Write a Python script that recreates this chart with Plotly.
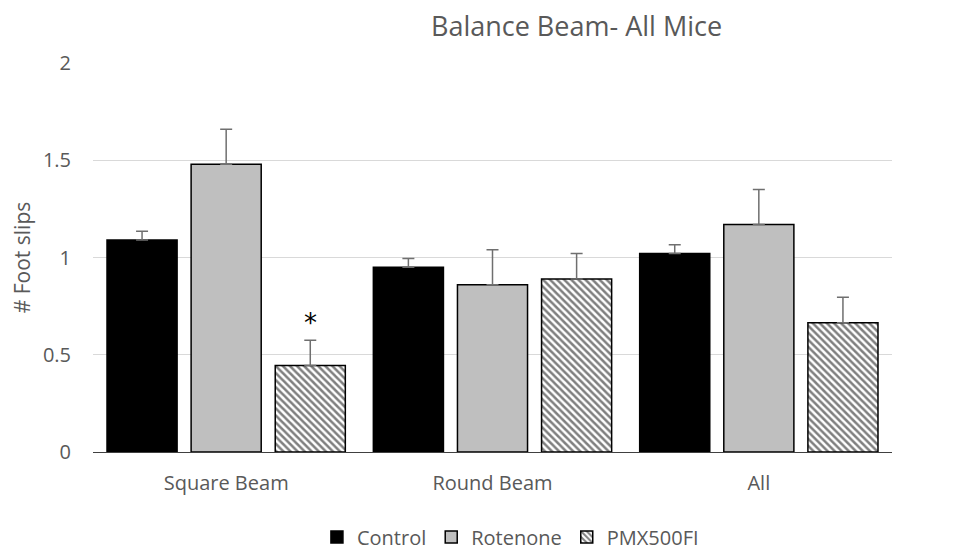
import plotly.graph_objects as go

categories = ["Square Beam", "Round Beam", "All"]
series_names = ["Control", "Rotenone", "PMX500FI"]
control = [1.09, 0.95, 1.02]
control_err = [0.045, 0.045, 0.045]
rotenone = [1.48, 0.86, 1.17]
rotenone_err = [0.18, 0.18, 0.18]
pmx = [0.445, 0.89, 0.665]
pmx_err = [0.13, 0.13, 0.13]
y_ticks = [0, 0.5, 1, 1.5, 2]
y_tick_labels = ["0", "0.5", "1", "1.5", "2"]

FONT = "Open Sans"
GRAY = "#595959"

def err(arr):
    return dict(type="data", array=arr, arrayminus=[0] * len(arr), symmetric=False,
                color="#6f6f6f", thickness=1.5, width=6)

fig = go.Figure()
fig.add_trace(go.Bar(name=series_names[0], x=categories, y=control, error_y=err(control_err),
                     marker=dict(color="#000000", line=dict(color="#000000", width=1.5))))
fig.add_trace(go.Bar(name=series_names[1], x=categories, y=rotenone, error_y=err(rotenone_err),
                     marker=dict(color="#bfbfbf", line=dict(color="#000000", width=1.5))))
fig.add_trace(go.Bar(name=series_names[2], x=categories, y=pmx, error_y=err(pmx_err),
                     marker=dict(color="#ffffff", line=dict(color="#000000", width=1.5),
                                 pattern=dict(shape="\\", fgcolor="#000000", bgcolor="#ffffff",
                                              size=5, solidity=0.5))))

fig.add_annotation(x=categories[0], y=pmx[0] + pmx_err[0], xref="x", yref="y", xshift=84,
                   text="*", showarrow=False, yanchor="bottom", yshift=0,
                   font=dict(family="DejaVu Sans", size=26, color="#000000"))

# page body has an 8px margin, so the figure is drawn 8px smaller and offset
fig.update_layout(
    width=948, height=542,
    margin=dict(l=85, r=64, t=55, b=98, autoexpand=False),
    paper_bgcolor="#ffffff", plot_bgcolor="#ffffff",
    barmode="group", bargap=0.0526, bargroupgap=0.1667,
    font=dict(family=FONT, size=20, color=GRAY),
    title=dict(text="Balance Beam- All Mice", x=0.5997, xanchor="center", y=0.965, yanchor="middle",
               font=dict(family=FONT, size=27, color=GRAY)),
    legend=dict(orientation="h", x=0.530, xanchor="center", xref="container",
                y=0.024, yanchor="middle", yref="container",
                font=dict(family=FONT, size=20, color=GRAY), itemwidth=30,
                traceorder="normal"),
    showlegend=True,
)
fig.update_xaxes(showgrid=False, showline=True, linecolor="#404040", linewidth=1,
                 ticks="", ticklabelstandoff=13, tickfont=dict(size=20, color=GRAY))
fig.update_yaxes(range=[0, 2], tickvals=y_ticks, ticktext=y_tick_labels, showgrid=True,
                 gridcolor="#d9d9d9", gridwidth=1, zeroline=False, showline=False,
                 ticks="", ticklabelstandoff=21, tickfont=dict(size=20, color=GRAY),
                 title=dict(text="# Foot slips", font=dict(size=21, color=GRAY), standoff=7))

fig.write_html("out.html")
